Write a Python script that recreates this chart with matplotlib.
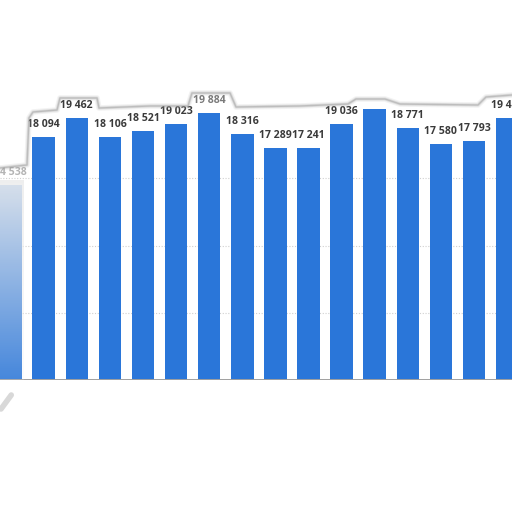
import numpy as np
import matplotlib
matplotlib.use("Agg")
import matplotlib.pyplot as plt

# values (first and last bars are cut by the crop)
values = [14538, 18094, 19462, 18106, 18521, 19023, 19884, 18316,
          17289, 17241, 19036, 20137, 18771, 17580, 17793, 19467]
labels = ["14 538", "18 094", "19 462", "18 106", "18 521", "19 023", "19 884", "18 316",
          "17 289", "17 241", "19 036", "20 137", "18 771", "17 580", "17 793", "19 467"]
grid_levels = [5000, 10000, 15000]

# torn top edge of the crop, pixel coords (x, y from top)
edge_x = [0, 27, 29, 33, 57, 60, 97, 99, 150, 188, 192, 230, 236, 300, 348, 356, 385, 400, 478, 486, 512]
edge_y = [168, 165, 118, 112, 110, 98, 98, 108, 106, 106, 93, 93, 107, 106, 104, 99, 99, 104, 105, 97, 95]

W = 512
fig = plt.figure(figsize=(5.12, 5.12), dpi=100)
fig.patch.set_facecolor("white")

base_px = 380
ax = fig.add_axes([0, 1 - base_px / W, 1, base_px / W])
x = np.arange(len(values))
pitch = 33.1
x0 = 10.6
ax.set_xlim(-x0 / pitch, (W - x0) / pitch)
ax.set_ylim(0, base_px / 0.013443)

ax.bar(x, values, width=0.68, color="#2a76d9", zorder=2)

for i, (v, lab) in enumerate(zip(values, labels)):
    col = "#3a3a3a"
    if i == 0:
        col = "#b4b4b4"
    elif lab == "19 884":
        col = "#7a7a7a"
    ax.annotate(lab, (i, v), xytext=(0, 7.2), textcoords="offset points",
                ha="center", va="baseline", fontsize=7.6, fontweight="bold",
                family=["Open Sans", "DejaVu Sans"], color=col, zorder=3)

ax.set_yticks(grid_levels)
ax.yaxis.grid(True, color="#d0d0d0", linestyle=(0, (1, 1.5)), linewidth=0.8, zorder=1)
ax.set_xticks([])
ax.tick_params(left=False, labelleft=False)
for s in ax.spines.values():
    s.set_visible(False)
ax.axhline(0, color="#a0a0a0", linewidth=1.4, zorder=3)

# white area above the torn edge, with a soft grey rim
fx = [v / W for v in edge_x]
fy = [1 - v / W for v in edge_y]
fig.patches.append(plt.Polygon(list(zip(fx, fy)) + [(1, 1), (0, 1)], closed=True,
                               transform=fig.transFigure, facecolor="white",
                               edgecolor="none", zorder=10))
for lw, a in [(4, 0.12), (2.2, 0.25), (1, 0.45)]:
    fig.add_artist(plt.Line2D(fx, fy, transform=fig.transFigure, color="#9a9a9a",
                              linewidth=lw, alpha=a, zorder=11))

# washed-out strip on the left edge
fade = fig.add_axes([0, 1 - 380 / W, 24 / W, 200 / W], zorder=9)
alpha = np.linspace(0.9, 0.15, 64)[:, None] * np.ones((64, 8))
rgba = np.ones((64, 8, 4)) * 0.93
rgba[..., 3] = alpha
fade.imshow(rgba, aspect="auto", interpolation="bilinear")
fade.axis("off")

fig.add_artist(plt.Line2D([0.002, 0.022], [1 - 409 / W, 1 - 395 / W], transform=fig.transFigure,
                          color="#d8d8d8", linewidth=4, solid_capstyle="round", zorder=9))

fig.savefig("out.png", dpi=100)
